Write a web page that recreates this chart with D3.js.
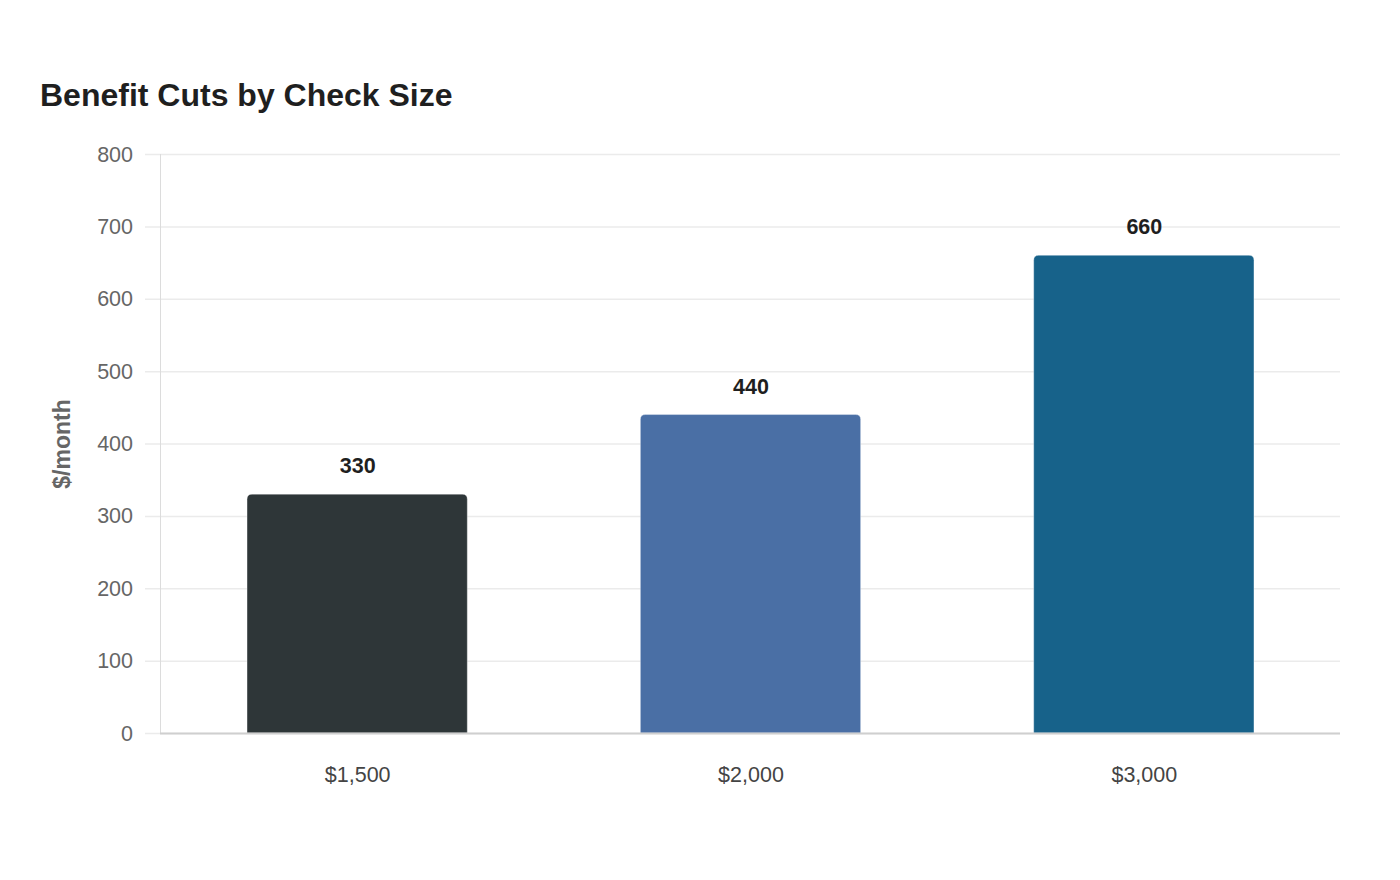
<!DOCTYPE html>
<html>
<head>
<meta charset="utf-8">
<script src="https://cdn.jsdelivr.net/npm/d3@7"></script>
<style>
  body { margin: 0; background: #fff; }
  svg { display: block; font-family: "Liberation Sans", Arial, sans-serif; }
</style>
</head>
<body>
<svg id="chart" width="1400" height="880"></svg>
<script>
// data
var checkSizes = ['$1,500', '$2,000', '$3,000'];
var cutValues = [330, 440, 660];
var barColors = ['#2e3638', '#4a6fa5', '#17628a'];
var yTicks = [0, 100, 200, 300, 400, 500, 600, 700, 800];

var margin = {top: 154, right: 60, bottom: 147, left: 160};
var width = 1400 - margin.left - margin.right;
var height = 880 - margin.top - margin.bottom;

var svg = d3.select('#chart');

svg.append('text')
    .attr('x', 40)
    .attr('y', 106)
    .style('font-size', '32px')
    .style('font-weight', 'bold')
    .style('fill', '#1f1f1f')
    .text('Benefit Cuts by Check Size');

var g = svg.append('g')
    .attr('transform', 'translate(' + margin.left + ',' + margin.top + ')');

var x = d3.scaleBand()
    .domain(checkSizes)
    .range([0, width])
    .paddingInner(0.44)
    .paddingOuter(0.22);

var y = d3.scaleLinear()
    .domain([0, 800])
    .range([height, 0]);

// gridlines
g.selectAll('.grid')
    .data(yTicks)
    .enter().append('line')
    .attr('x1', -15)
    .attr('x2', width)
    .attr('y1', function(d){ return y(d) + 0.5; })
    .attr('y2', function(d){ return y(d) + 0.5; })
    .style('stroke', '#ebebeb')
    .style('stroke-width', 1.5);

// y tick labels
g.selectAll('.ytick')
    .data(yTicks)
    .enter().append('text')
    .attr('x', -27)
    .attr('y', function(d){ return y(d); })
    .attr('dy', '0.35em')
    .style('text-anchor', 'end')
    .style('font-size', '21.5px')
    .style('fill', '#666')
    .text(function(d){ return d; });

// left axis line
g.append('line')
    .attr('x1', 0.5).attr('x2', 0.5)
    .attr('y1', 0).attr('y2', height)
    .style('stroke', '#dcdcdc')
    .style('stroke-width', 1);

// bars with rounded tops
var r = 5;
g.selectAll('.bar')
    .data(cutValues)
    .enter().append('path')
    .attr('d', function(d, i){
        var x0 = x(checkSizes[i]) + 0.5, w = x.bandwidth();
        var y0 = y(d), y1 = y(0);
        return 'M' + x0 + ',' + y1 +
            'V' + (y0 + r) +
            'Q' + x0 + ',' + y0 + ' ' + (x0 + r) + ',' + y0 +
            'H' + (x0 + w - r) +
            'Q' + (x0 + w) + ',' + y0 + ' ' + (x0 + w) + ',' + (y0 + r) +
            'V' + y1 + 'Z';
    })
    .style('fill', function(d, i){ return barColors[i]; })
    .style('stroke', 'rgba(255,255,255,0.35)')
    .style('stroke-width', 1);

// value labels
g.selectAll('.val')
    .data(cutValues)
    .enter().append('text')
    .attr('x', function(d, i){ return x(checkSizes[i]) + x.bandwidth() / 2 + 1; })
    .attr('y', function(d){ return y(d) - 21; })
    .style('text-anchor', 'middle')
    .style('font-size', '21.5px')
    .style('font-weight', 'bold')
    .style('fill', '#1f1f1f')
    .text(function(d){ return d; });

// bottom axis line
g.append('line')
    .attr('x1', 0).attr('x2', width)
    .attr('y1', height + 0.5).attr('y2', height + 0.5)
    .style('stroke', '#cfcfcf')
    .style('stroke-width', 2);

// x labels
g.selectAll('.xlab')
    .data(checkSizes)
    .enter().append('text')
    .attr('x', function(d){ return x(d) + x.bandwidth() / 2 + 1; })
    .attr('y', height + 49)
    .style('text-anchor', 'middle')
    .style('font-size', '21.5px')
    .style('fill', '#444')
    .text(function(d){ return d; });

// y axis title
svg.append('text')
    .attr('transform', 'translate(70,' + 444 + ') rotate(-90)')
    .style('text-anchor', 'middle')
    .style('font-size', '23px')
    .style('font-weight', 'bold')
    .style('fill', '#666')
    .text('$/month');
</script>
</body>
</html>
